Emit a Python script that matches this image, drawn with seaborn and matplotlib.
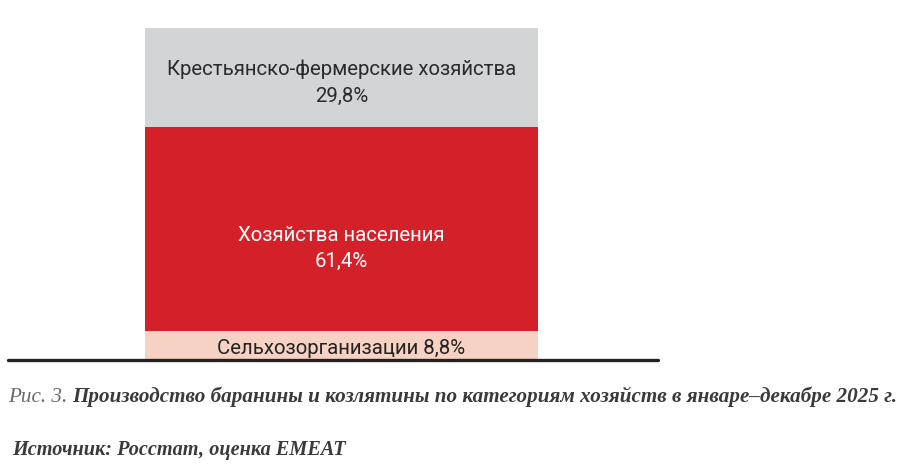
import matplotlib
matplotlib.use("Agg")
import matplotlib.pyplot as plt
import seaborn as sns
import pandas as pd

# Shares of lamb and goat meat production by farm category, %
categories = ["Сельхозорганизации", "Хозяйства населения", "Крестьянско-фермерские хозяйства"]
shares = [8.8, 61.4, 29.8]
colors = ["#F6D2C5", "#D42129", "#D3D4D6"]
text_colors = ["#222222", "#FFFFFF", "#2A2A2A"]

caption_prefix = "Рис. 3."
caption_title = "Производство баранины и козлятины по категориям хозяйств в январе–декабре 2025 г."
source_text = "Источник: Росстат, оценка EMEAT"

sns.set_theme(style="white")
plt.rcParams["font.family"] = ["Roboto", "Liberation Sans", "DejaVu Sans"]

W, H = 909, 468
fig = plt.figure(figsize=(W / 100, H / 100), dpi=100)
ax = fig.add_axes([10 / W, 108 / H, 648 / W, 332 / H])

# Stacked column: cumulative tops drawn from the largest down
bottoms = [sum(shares[:i]) for i in range(len(shares))]
tops = [b + s for b, s in zip(bottoms, shares)]
for cat, top, col in reversed(list(zip(categories, tops, colors))):
    df = pd.DataFrame({"x": ["all"], "y": [top]})
    sns.barplot(data=df, x="x", y="y", color=col, width=0.8,
                saturation=1, linewidth=0, ax=ax)

ax.set_xlim(-0.6748, 0.6443)
ax.set_ylim(0, 100)
ax.axis("off")
ax.axhline(0, color="#222222", lw=2.4, xmin=-0.003, xmax=1, clip_on=False)


def pct(v):
    return f"{v:.1f}%".replace(".", ",")


# Segment labels
fs = 14.7
ax.text(0, bottoms[0] + shares[0] / 2 - 0.8, f"{categories[0]} {pct(shares[0])}",
        ha="center", va="center", fontsize=fs, color=text_colors[0])
ax.text(0, bottoms[1] + shares[1] / 2 - 5.9, f"{categories[1]}\n{pct(shares[1])}",
        ha="center", va="center", fontsize=fs, color=text_colors[1], linespacing=1.5)
ax.text(0, bottoms[2] + shares[2] / 2 - 1.5, f"{categories[2]}\n{pct(shares[2])}",
        ha="center", va="center", fontsize=fs, color=text_colors[2], linespacing=1.5)

# Caption and source
serif = ["Liberation Serif", "DejaVu Serif"]
cfs = 15.2
t1 = fig.text(8 / W, 1 - 402 / H, caption_prefix + " ", family=serif, style="italic",
              fontsize=cfs, color="#6A6A6A", va="baseline")
fig.canvas.draw()
bb = t1.get_window_extent()
fig.text(bb.x1 / W, 1 - 402 / H, caption_title, family=serif, style="italic",
         weight="bold", fontsize=cfs, color="#3A3A3A", va="baseline")
fig.text(12 / W, 1 - 455 / H, source_text, family=serif, style="italic",
         weight="bold", fontsize=14.6, color="#3A3A3A", va="baseline")

fig.savefig("out.png", dpi=100, facecolor="white")
